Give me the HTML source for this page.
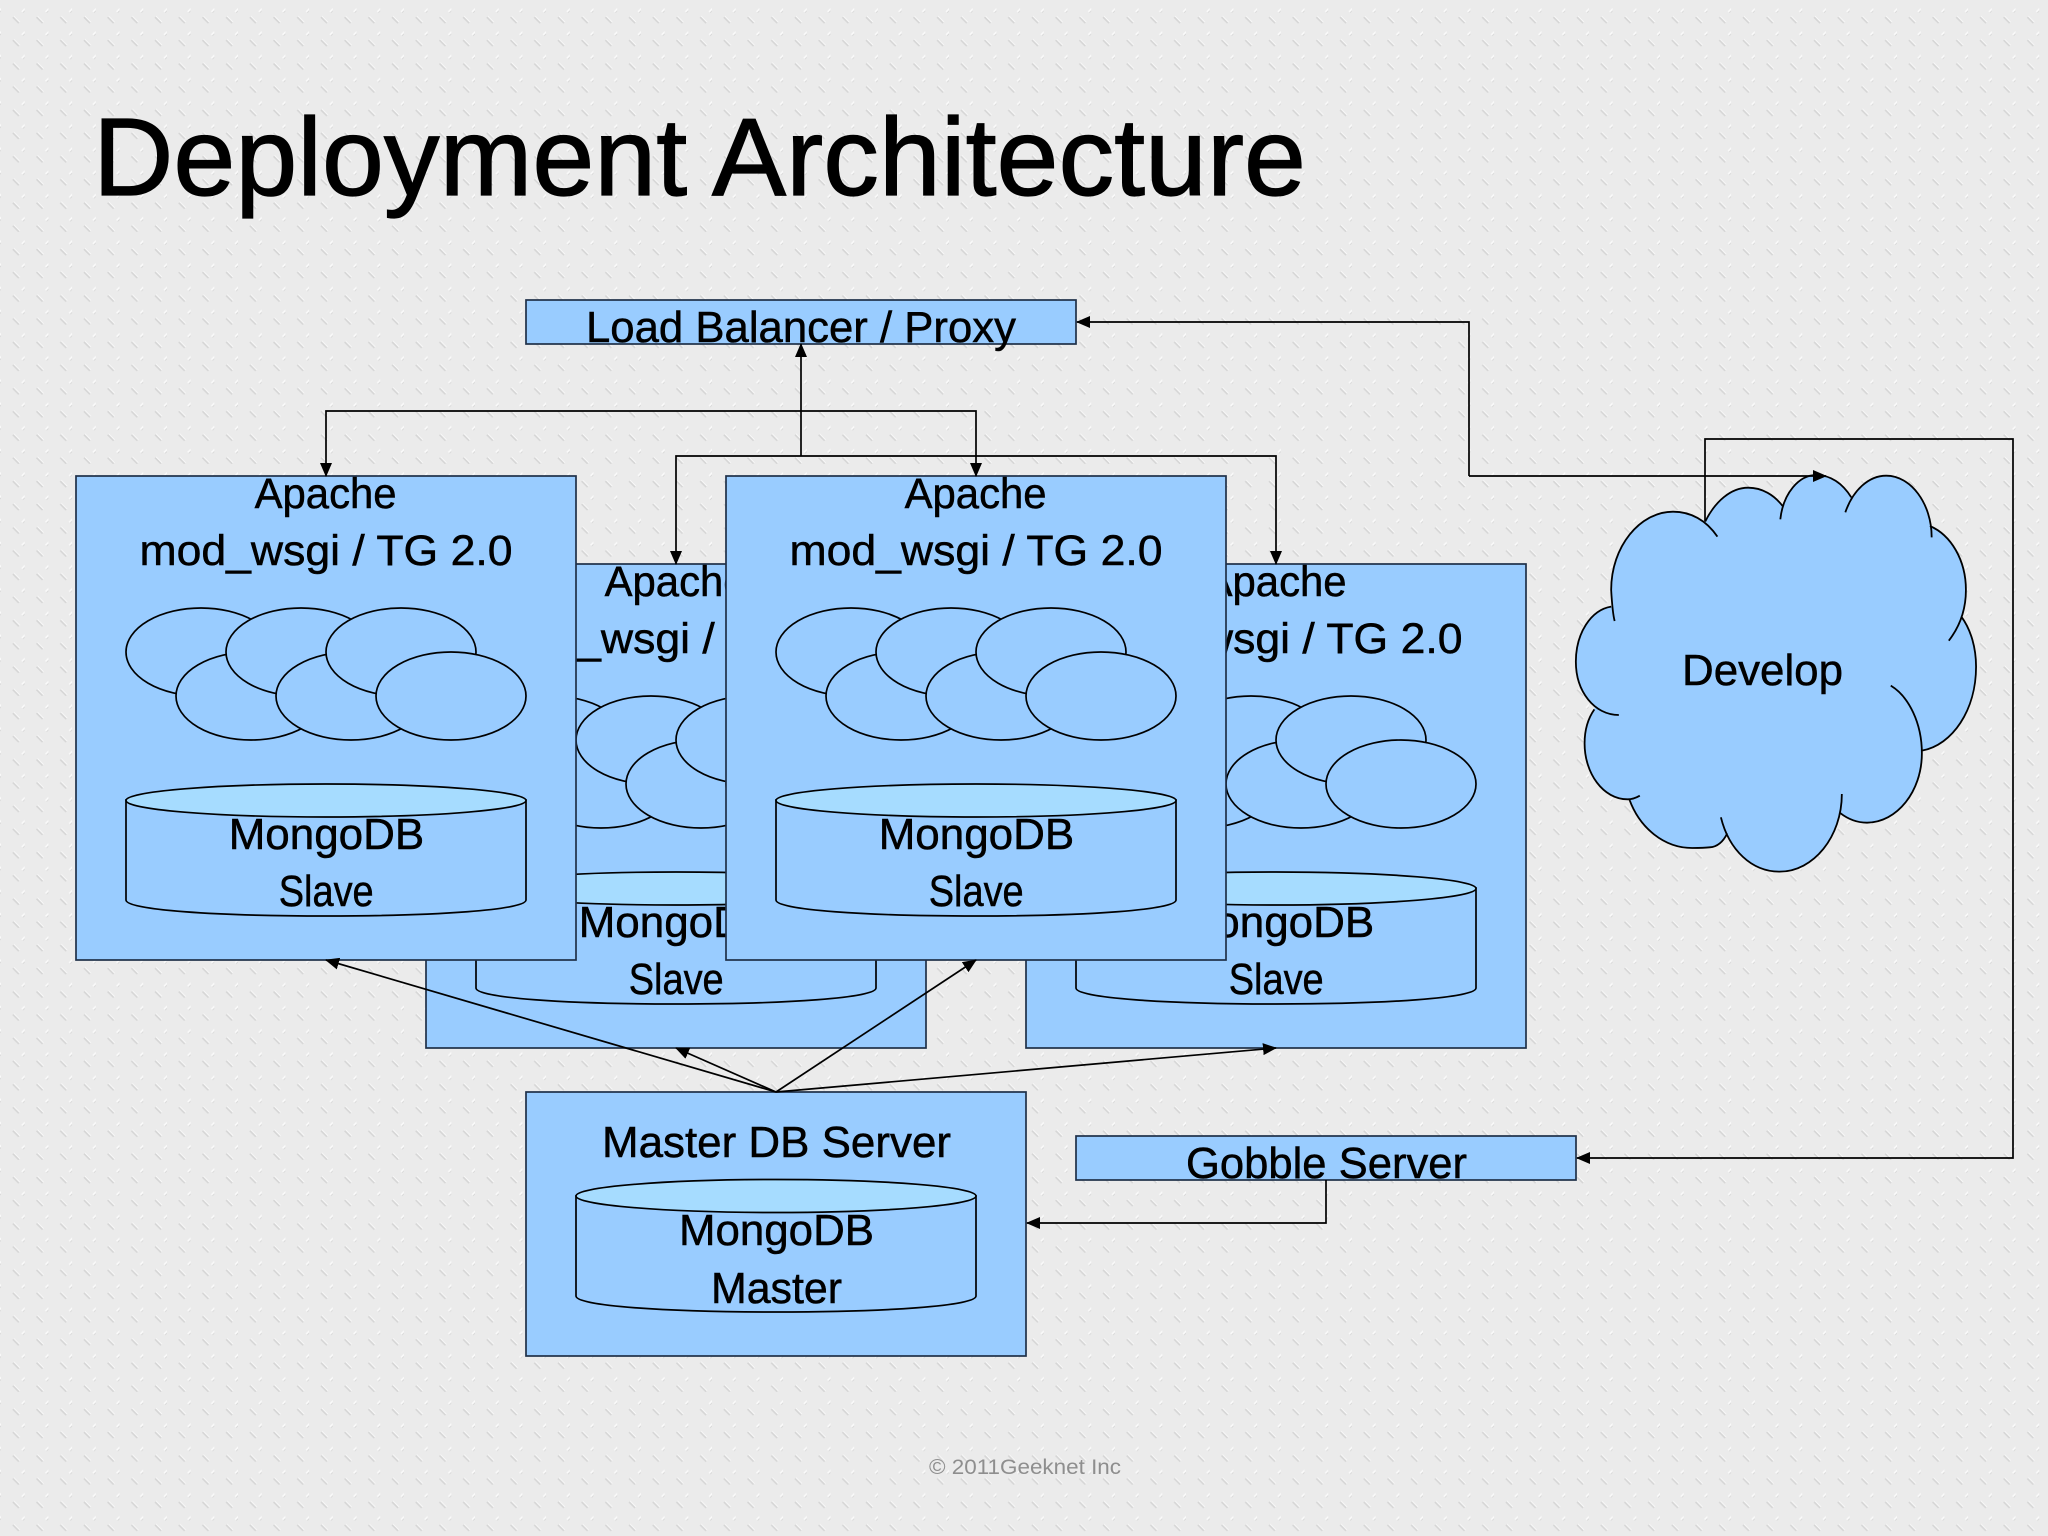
<!DOCTYPE html>
<html><head><meta charset="utf-8"><title>Deployment Architecture</title>
<style>html,body{margin:0;padding:0;background:#ebebeb}svg{display:block}text{font-family:"Liberation Sans",sans-serif;fill:#000;stroke:#000;stroke-width:.5}</style></head>
<body>
<svg xmlns="http://www.w3.org/2000/svg" width="2048" height="1536" viewBox="0 0 2048 1536">
<defs>
<pattern id="bg" width="23.7" height="46.4" patternUnits="userSpaceOnUse" patternTransform="translate(1,0)">
<path d="M21 12 L26 7" stroke="#fafafa" stroke-width="2" fill="none"/>
<path d="M21.8 12.8 L26.8 7.8" stroke="#d8d8d8" stroke-width=".9" fill="none"/>
<path d="M12 17 L18 23" stroke="#d6d6d6" stroke-width="2" fill="none"/>
<path d="M12.8 16.2 L18.8 22.200" stroke="#fafafa" stroke-width=".9" fill="none"/>
<path d="M21 35 L26 30" stroke="#fafafa" stroke-width="2" fill="none"/>
<path d="M21.8 35.8 L26.8 30.8" stroke="#d8d8d8" stroke-width=".9" fill="none"/>
<path d="M12 40 L18 46" stroke="#d6d6d6" stroke-width="2" fill="none"/>
<path d="M12.8 39.2 L18.8 45.200" stroke="#fafafa" stroke-width=".9" fill="none"/>
</pattern>
<marker id="a" viewBox="0 0 14 12" refX="13" refY="6" markerWidth="14" markerHeight="12" markerUnits="userSpaceOnUse" orient="auto"><path d="M0 0 L14 6 L0 12 Z" fill="#000"/></marker>
</defs>
<rect width="2048" height="1536" fill="#ebebeb"/>
<rect width="2048" height="1536" fill="url(#bg)"/>

<text x="93" y="195" font-size="110" textLength="1213" lengthAdjust="spacingAndGlyphs" style="stroke-width:1.2">Deployment Architecture</text>

<!-- Load balancer -->
<rect x="526" y="300" width="550" height="44" fill="#99ccff" stroke="#1f3048" stroke-width="1.7"/>
<text x="586" y="342" font-size="44" textLength="430" lengthAdjust="spacingAndGlyphs">Load Balancer / Proxy</text>

<!-- Back left server -->
<g transform="translate(426,564)" stroke-width="1.7">
<rect width="500" height="484" fill="#99ccff" stroke="#1f3048"/>
<text x="178.6" y="32" font-size="43" textLength="142" lengthAdjust="spacingAndGlyphs">Apache</text>
<text x="63.5" y="89" font-size="43" textLength="373" lengthAdjust="spacingAndGlyphs">mod_wsgi / TG 2.0</text>
<g fill="#99ccff" stroke="#000"><ellipse cx="125" cy="176" rx="75" ry="44"/><ellipse cx="175" cy="220" rx="75" ry="44"/><ellipse cx="225" cy="176" rx="75" ry="44"/><ellipse cx="275" cy="220" rx="75" ry="44"/><ellipse cx="325" cy="176" rx="75" ry="44"/><ellipse cx="375" cy="220" rx="75" ry="44"/>
<path d="M50 324 V424 C50 434 140 440 250 440 C360 440 450 434 450 424 V324 Z"/>
<ellipse cx="250" cy="324.500" rx="200" ry="16.500" fill="#a6dcff"/></g>
<text x="152.700" y="373" font-size="44" textLength="195.500" lengthAdjust="spacingAndGlyphs">MongoDB</text>
<text x="202.700" y="430" font-size="44" textLength="95" lengthAdjust="spacingAndGlyphs">Slave</text>
</g>

<!-- Back right server -->
<g transform="translate(1026,564)" stroke-width="1.7">
<rect width="500" height="484" fill="#99ccff" stroke="#1f3048"/>
<text x="178.6" y="32" font-size="43" textLength="142" lengthAdjust="spacingAndGlyphs">Apache</text>
<text x="63.5" y="89" font-size="43" textLength="373" lengthAdjust="spacingAndGlyphs">mod_wsgi / TG 2.0</text>
<g fill="#99ccff" stroke="#000"><ellipse cx="125" cy="176" rx="75" ry="44"/><ellipse cx="175" cy="220" rx="75" ry="44"/><ellipse cx="225" cy="176" rx="75" ry="44"/><ellipse cx="275" cy="220" rx="75" ry="44"/><ellipse cx="325" cy="176" rx="75" ry="44"/><ellipse cx="375" cy="220" rx="75" ry="44"/>
<path d="M50 324 V424 C50 434 140 440 250 440 C360 440 450 434 450 424 V324 Z"/>
<ellipse cx="250" cy="324.500" rx="200" ry="16.500" fill="#a6dcff"/></g>
<text x="152.700" y="373" font-size="44" textLength="195.500" lengthAdjust="spacingAndGlyphs">MongoDB</text>
<text x="202.700" y="430" font-size="44" textLength="95" lengthAdjust="spacingAndGlyphs">Slave</text>
</g>

<!-- Front left server -->
<g transform="translate(76,476)" stroke-width="1.7">
<rect width="500" height="484" fill="#99ccff" stroke="#1f3048"/>
<text x="178.6" y="32" font-size="43" textLength="142" lengthAdjust="spacingAndGlyphs">Apache</text>
<text x="63.5" y="89" font-size="43" textLength="373" lengthAdjust="spacingAndGlyphs">mod_wsgi / TG 2.0</text>
<g fill="#99ccff" stroke="#000"><ellipse cx="125" cy="176" rx="75" ry="44"/><ellipse cx="175" cy="220" rx="75" ry="44"/><ellipse cx="225" cy="176" rx="75" ry="44"/><ellipse cx="275" cy="220" rx="75" ry="44"/><ellipse cx="325" cy="176" rx="75" ry="44"/><ellipse cx="375" cy="220" rx="75" ry="44"/>
<path d="M50 324 V424 C50 434 140 440 250 440 C360 440 450 434 450 424 V324 Z"/>
<ellipse cx="250" cy="324.500" rx="200" ry="16.500" fill="#a6dcff"/></g>
<text x="152.700" y="373" font-size="44" textLength="195.500" lengthAdjust="spacingAndGlyphs">MongoDB</text>
<text x="202.700" y="430" font-size="44" textLength="95" lengthAdjust="spacingAndGlyphs">Slave</text>
</g>

<!-- Front centre server -->
<g transform="translate(726,476)" stroke-width="1.7">
<rect width="500" height="484" fill="#99ccff" stroke="#1f3048"/>
<text x="178.6" y="32" font-size="43" textLength="142" lengthAdjust="spacingAndGlyphs">Apache</text>
<text x="63.5" y="89" font-size="43" textLength="373" lengthAdjust="spacingAndGlyphs">mod_wsgi / TG 2.0</text>
<g fill="#99ccff" stroke="#000"><ellipse cx="125" cy="176" rx="75" ry="44"/><ellipse cx="175" cy="220" rx="75" ry="44"/><ellipse cx="225" cy="176" rx="75" ry="44"/><ellipse cx="275" cy="220" rx="75" ry="44"/><ellipse cx="325" cy="176" rx="75" ry="44"/><ellipse cx="375" cy="220" rx="75" ry="44"/>
<path d="M50 324 V424 C50 434 140 440 250 440 C360 440 450 434 450 424 V324 Z"/>
<ellipse cx="250" cy="324.500" rx="200" ry="16.500" fill="#a6dcff"/></g>
<text x="152.700" y="373" font-size="44" textLength="195.500" lengthAdjust="spacingAndGlyphs">MongoDB</text>
<text x="202.700" y="430" font-size="44" textLength="95" lengthAdjust="spacingAndGlyphs">Slave</text>
</g>

<!-- Master -->
<rect x="526" y="1092" width="500" height="264" fill="#99ccff" stroke="#1f3048" stroke-width="1.7"/>
<text x="602" y="1157" font-size="44" textLength="349" lengthAdjust="spacingAndGlyphs">Master DB Server</text>
<g fill="#99ccff" stroke="#000" stroke-width="1.7">
<path d="M576 1196 V1296 C576 1306 666 1312 776 1312 C886 1312 976 1306 976 1296 V1196 Z"/>
<ellipse cx="776" cy="1196" rx="200" ry="16.500" fill="#a6dcff"/>
</g>
<text x="679" y="1245" font-size="44" textLength="195" lengthAdjust="spacingAndGlyphs">MongoDB</text>
<text x="711" y="1303" font-size="44" textLength="131" lengthAdjust="spacingAndGlyphs">Master</text>

<!-- Gobble -->
<rect x="1076" y="1136" width="500" height="44" fill="#99ccff" stroke="#1f3048" stroke-width="1.7"/>
<text x="1186" y="1178" font-size="44" textLength="281" lengthAdjust="spacingAndGlyphs">Gobble Server</text>

<!-- Cloud -->
<g transform="translate(1500,420) scale(0.34953,0.33333)">
<path fill="#99ccff" fill-rule="nonzero" d="M587 305 L810 260 L1005 232 L1230 318 L1320 590 L1207 992 L972 1178 L650 1240 L370 1140 L270 868 L318 560 Z
M328 603 Q322 580 318 510 C318 380 400 275 495 275 C545 275 590 300 622 350
M587 305 C615 245 660 203 710 203 C750 203 785 225 810 260
M802 298 C810 220 855 165 905 165 C945 165 980 190 1005 232
M988 277 C1010 210 1055 167 1105 167 C1175 167 1235 250 1235 352
M1230 318 C1290 345 1333 420 1333 510 C1333 570 1315 620 1284 662
M1320 590 C1348 630 1362 685 1362 740 C1362 870 1295 975 1207 992
M1118 797 C1170 830 1207 910 1207 1000 C1207 1115 1135 1208 1050 1208 C1020 1208 995 1197 972 1178
M978 1122 C978 1250 897 1355 800 1355 C720 1355 655 1290 632 1192
M650 1240 C640 1262 625 1280 600 1282 C585 1284 570 1284 550 1284 C470 1284 400 1225 370 1138
M400 1127 C390 1133 378 1138 365 1138 C295 1138 242 1060 242 970 C242 930 252 895 270 868
M340 885 C270 885 217 815 217 725 C217 640 260 570 318 560"/>
<path fill="none" stroke="#000" stroke-width="1.8" vector-effect="non-scaling-stroke" d="M328 603 Q322 580 318 510 C318 380 400 275 495 275 C545 275 590 300 622 350
M587 305 C615 245 660 203 710 203 C750 203 785 225 810 260
M802 298 C810 220 855 165 905 165 C945 165 980 190 1005 232
M988 277 C1010 210 1055 167 1105 167 C1175 167 1235 250 1235 352
M1230 318 C1290 345 1333 420 1333 510 C1333 570 1315 620 1284 662
M1320 590 C1348 630 1362 685 1362 740 C1362 870 1295 975 1207 992
M1118 797 C1170 830 1207 910 1207 1000 C1207 1115 1135 1208 1050 1208 C1020 1208 995 1197 972 1178
M978 1122 C978 1250 897 1355 800 1355 C720 1355 655 1290 632 1192
M650 1240 C640 1262 625 1280 600 1282 C585 1284 570 1284 550 1284 C470 1284 400 1225 370 1138
M400 1127 C390 1133 378 1138 365 1138 C295 1138 242 1060 242 970 C242 930 252 895 270 868
M340 885 C270 885 217 815 217 725 C217 640 260 570 318 560"/>
</g>
<text x="1682" y="685" font-size="44" textLength="161" lengthAdjust="spacingAndGlyphs">Develop</text>

<!-- Connectors -->
<g fill="none" stroke="#000" stroke-width="1.7">
<path d="M801 456 V344" marker-end="url(#a)"/>
<path d="M801 411 H326 V476" marker-end="url(#a)"/>
<path d="M801 411 H976 V476" marker-end="url(#a)"/>
<path d="M801 456 H676 V564" marker-end="url(#a)"/>
<path d="M801 456 H1276 V564" marker-end="url(#a)"/>
<path d="M1469 476 V322 H1077" marker-end="url(#a)"/>
<path d="M1469 476 H1826" marker-end="url(#a)"/>
<path d="M1705 521 V439 H2013 V1158 H1577" marker-end="url(#a)"/>
<path d="M1326 1180 V1223 H1027" marker-end="url(#a)"/>
<path d="M776 1092 L326 960" marker-end="url(#a)"/>
<path d="M776 1092 L676 1048" marker-end="url(#a)"/>
<path d="M776 1092 L976 960" marker-end="url(#a)"/>
<path d="M776 1092 L1276 1048" marker-end="url(#a)"/>
</g>

<text x="929" y="1474" font-size="21" textLength="192" lengthAdjust="spacingAndGlyphs" style="fill:#8e8e8e;stroke:none">© 2011Geeknet Inc</text>
</svg>
</body></html>
